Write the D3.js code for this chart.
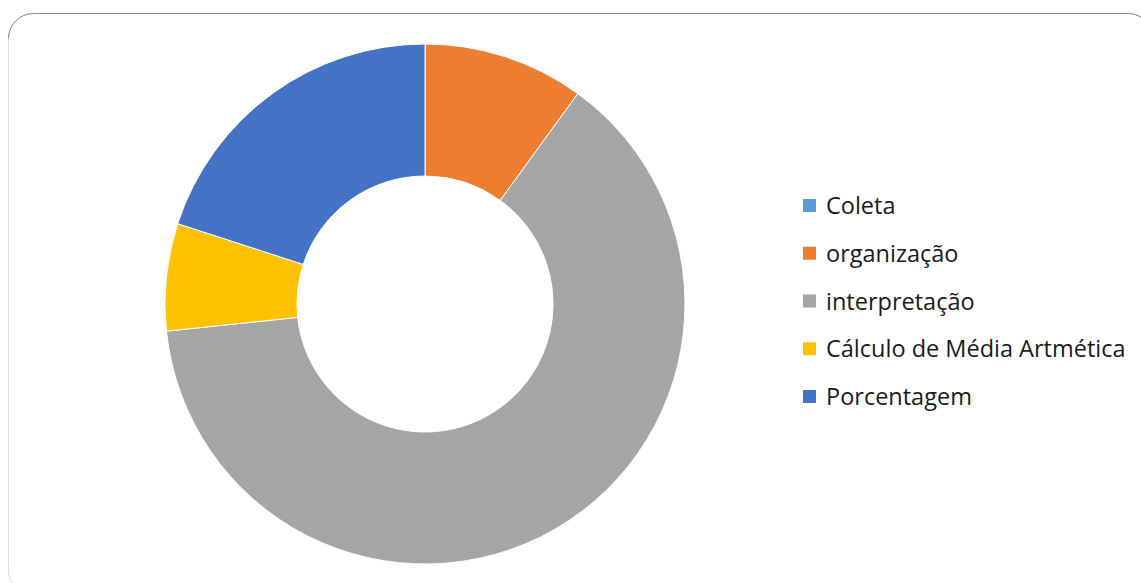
<!DOCTYPE html>
<html>
<head>
<meta charset="utf-8">
<script src="https://cdn.jsdelivr.net/npm/d3@7"></script>
<style>
  body { margin: 0; background: #fff; }
  svg { display: block; }
</style>
</head>
<body>
<div id="chart"></div>
<script>
const categories = ['Coleta', 'organização', 'interpretação', 'Cálculo de Média Artmética', 'Porcentagem'];
const values = [0, 3, 19, 2, 6];
const colors = ['#5B9BD5', '#ED7D31', '#A5A5A5', '#FFC000', '#4472C4'];

const width = 1141;
const height = 583;
const center = { x: 425, y: 304 };
const outerRadius = 260;
const innerRadius = 128;

const data = categories.map((c, i) => ({ name: c, value: values[i], color: colors[i] }));

const svg = d3.select('#chart')
  .append('svg')
  .attr('width', width)
  .attr('height', height);

// chart frame (rounded, runs off the right and bottom)
svg.append('rect')
  .attr('x', 8.5)
  .attr('y', 13.5)
  .attr('width', 1145)
  .attr('height', 582)
  .attr('rx', 25)
  .attr('fill', 'none')
  .attr('stroke', '#dadada')
  .attr('stroke-width', 1);

svg.append('path')
  .attr('d', 'M8.5,38.5 A25,25 0 0 1 33.5,13.5 L1128.5,13.5 A25,25 0 0 1 1141,17')
  .attr('fill', 'none')
  .attr('stroke', '#8c8c8c')
  .attr('stroke-width', 1);

const pie = d3.pie()
  .sort(null)
  .value(d => d.value);

const arc = d3.arc()
  .innerRadius(innerRadius)
  .outerRadius(outerRadius);

const g = svg.append('g')
  .attr('transform', `translate(${center.x}, ${center.y})`);

g.selectAll('path')
  .data(pie(data).filter(d => d.data.value > 0))
  .join('path')
  .attr('d', arc)
  .attr('fill', d => d.data.color)
  .attr('stroke', '#fff')
  .attr('stroke-width', 1);

// legend
const legendY = d3.scalePoint()
  .domain(categories)
  .range([206, 397]);

const legend = svg.append('g').attr('class', 'legend');

const items = legend.selectAll('g')
  .data(data)
  .join('g')
  .attr('transform', d => `translate(803, ${legendY(d.name)})`);

items.append('rect')
  .attr('x', 0)
  .attr('y', -7)
  .attr('width', 13)
  .attr('height', 13)
  .attr('fill', d => d.color);

items.append('text')
  .attr('x', 23)
  .attr('y', 0)
  .attr('dy', '0.35em')
  .style('font-family', '"Open Sans", "Noto Sans", sans-serif')
  .style('font-size', '23.5px')
  .style('fill', '#1a1a1a')
  .text(d => d.name);
</script>
</body>
</html>
